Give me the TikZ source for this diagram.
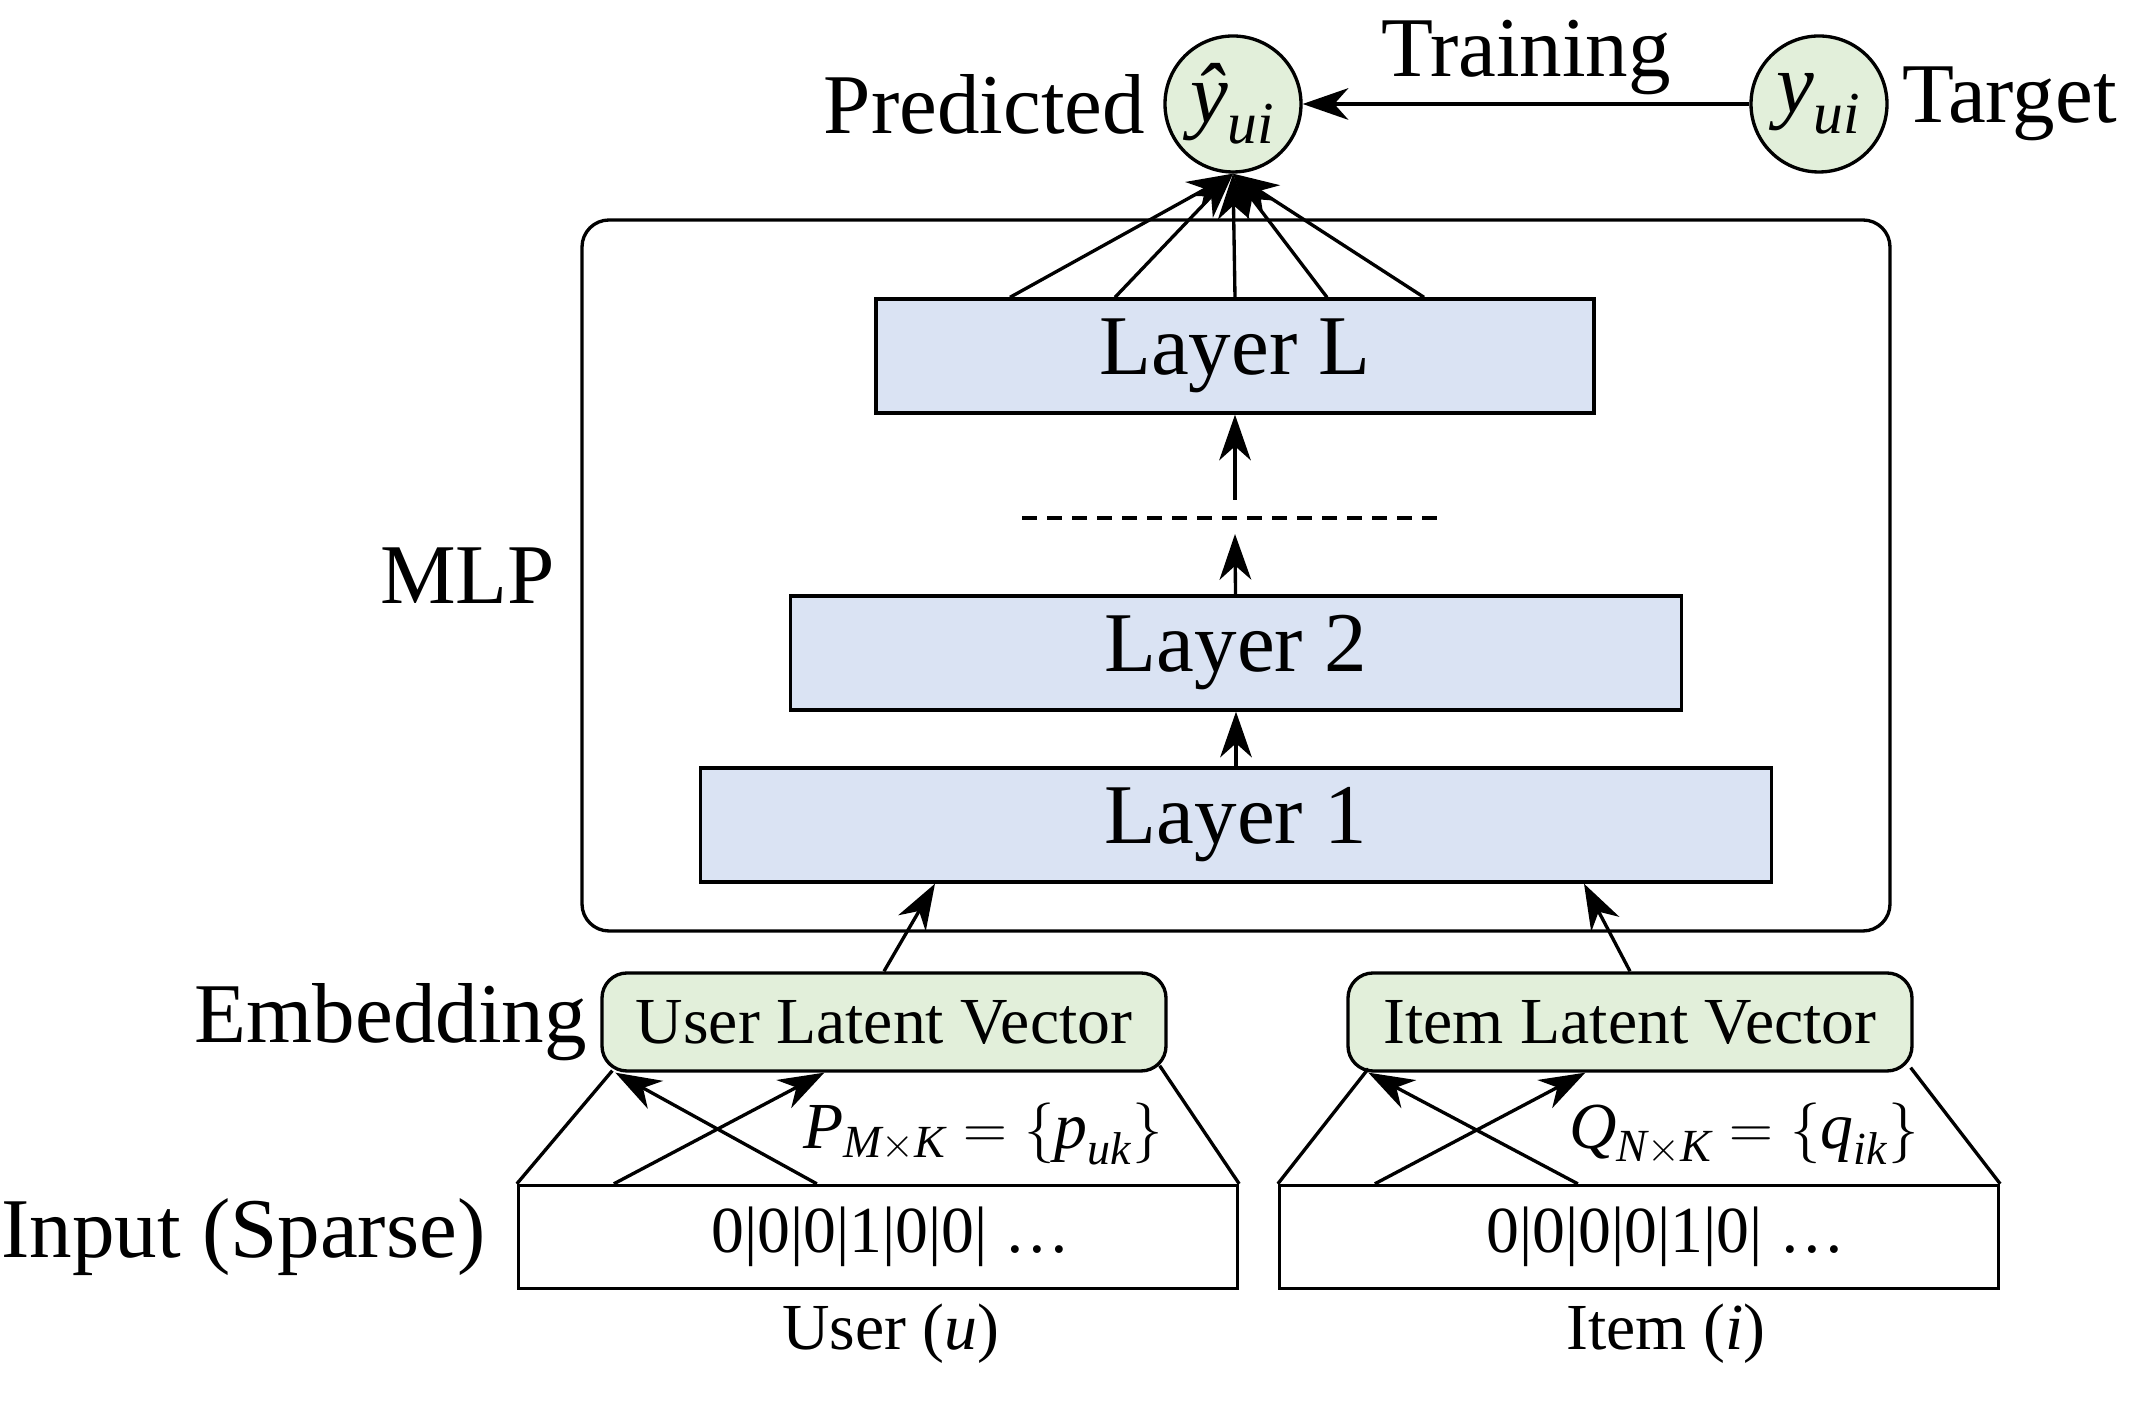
\documentclass[tikz,border=0pt]{standalone}
\usepackage{amsmath}
\usepackage{fontspec}
\setmainfont{Liberation Serif}
\usetikzlibrary{positioning,calc,arrows.meta}

\definecolor{layerblue}{HTML}{DAE3F3}
\definecolor{latentgreen}{HTML}{E2EFDA}
\newcommand{\bigfont}{\fontsize{24.2}{27}\selectfont}
\newcommand{\smallfont}{\fontsize{18.7}{21}\selectfont}
\newcommand{\ti}[1]{\text{\itshape #1}}

\tikzset{
    arr/.style={-{Stealth[length=13pt,width=9pt,inset=4pt]}},
    layer/.style={draw, fill=layerblue, minimum height=1.14cm, font=\bigfont},
    latent/.style={draw, fill=latentgreen, rounded corners=0.25cm, minimum width=5.64cm, minimum height=0.98cm, font=\smallfont},
    inbox/.style={draw, minimum width=7.19cm, minimum height=1.03cm, font=\smallfont},
    outcircle/.style={draw, circle, fill=latentgreen, minimum size=1.36cm, inner sep=0pt, font=\bigfont},
}

\begin{document}
\begin{tikzpicture}[line width=0.95pt]
    \useasboundingbox (0,0) rectangle (21.32,-14.04);

    % Output
    \node[outcircle] (yhat) at (12.33,-1.04) {$\ti{ŷ}_{\ti{ui}}$};
    \node[outcircle] (ytrue) at (18.19,-1.04) {$\ti{y}_{\ti{ui}}$};
    \node[left=0.05cm of yhat, font=\bigfont] (pred) {Predicted};
    \node[right=0cm of ytrue, font=\bigfont] (target) {Target};
    \draw[arr] (ytrue) -- (yhat) node[midway, above, inner sep=2pt, font=\bigfont] (train) {Training};

    % MLP
    \node[draw, rounded corners=0.27cm, minimum width=13.08cm, minimum height=7.11cm] (mlp) at (12.36,-5.755) {};
    \node[left=0.12cm of mlp, font=\bigfont] (mlplab) {MLP};
    \node[layer, minimum width=7.18cm] (layerL) at (12.35,-3.56) {Layer L};
    \node[layer, minimum width=8.91cm] (layer2) at (12.36,-6.53) {Layer 2};
    \node[layer, minimum width=10.71cm] (layer1) at (12.36,-8.25) {Layer 1};

    % Dashed Line
    \coordinate (dl) at (10.22,-5.18);
    \coordinate (dr) at (14.37,-5.18);
    \coordinate (dtop) at (12.35,-5.00);
    \coordinate (dbot) at (12.35,-5.34);
    \draw[line width=1.1pt, dash pattern=on 0.15cm off 0.1cm] (dl) -- (dr);

    \draw[arr] (layer1) -- (layer2);
    \draw[arr] (layer2) -- (dbot);
    \draw[arr] (dtop) -- (layerL);
    \foreach \dx in {-2.25,-1.2,0,0.92,1.89}
        \draw[arr] ($(layerL.north)+(\dx,0)$) -- (yhat.south);

    % Embedding
    \node[latent] (userLV) at (8.84,-10.22) {User Latent Vector};
    \node[latent] (itemLV) at (16.30,-10.22) {Item Latent Vector};
    \node[left=0cm of userLV, font=\bigfont] (emb) {Embedding};
    \draw[arr] (userLV.north) -- ($(layer1.south)+(-3.01,0)$);
    \draw[arr] (itemLV.north) -- ($(layer1.south)+(3.48,0)$);

    % Input
    \node[inbox] (userIn) at (8.78,-12.37) {\hspace*{0.26cm}0|0|0|1|0|0| \dots};
    \node[inbox] (itemIn) at (16.39,-12.37) {\hspace*{0.54cm}0|0|0|0|1|0| \dots};
    \node[left=0.18cm of userIn, font=\bigfont] (inlab) {Input (Sparse)};
    \node[below=0cm of userIn, xshift=0.13cm, font=\smallfont] (userlab) {User (\textit{u})};
    \node[below=0cm of itemIn, xshift=0.27cm, font=\smallfont] (itemlab) {Item (\textit{i})};

    % Embedding matrices
    \draw (userIn.north west) -- ($(userLV.south west)+(0.12,0.02)$);
    \draw (userIn.north east) -- ($(userLV.south east)+(-0.08,0.07)$);
    \draw[arr] ($(userIn.north west)+(0.97,0)$) -- ($(userLV.south west)+(2.24,0)$);
    \draw[arr] ($(userIn.north west)+(3.00,0)$) -- ($(userLV.south west)+(0.15,0)$);
    \node[font=\smallfont] (plab) at (9.83,-11.34) {$\ti{P}_{\ti{M}\times\ti{K}}=\{\ti{p}_{\ti{uk}}\}$};

    \draw (itemIn.north west) -- ($(itemLV.south west)+(0.22,0.04)$);
    \draw (itemIn.north east) -- ($(itemLV.south east)+(-0.03,0.05)$);
    \draw[arr] ($(itemIn.north west)+(0.97,0)$) -- ($(itemLV.south west)+(2.39,0)$);
    \draw[arr] ($(itemIn.north west)+(3.00,0)$) -- ($(itemLV.south west)+(0.22,0)$);
    \node[font=\smallfont] (qlab) at (17.44,-11.34) {$\ti{Q}_{\ti{N}\times\ti{K}}=\{\ti{q}_{\ti{ik}}\}$};

\end{tikzpicture}
\end{document}
